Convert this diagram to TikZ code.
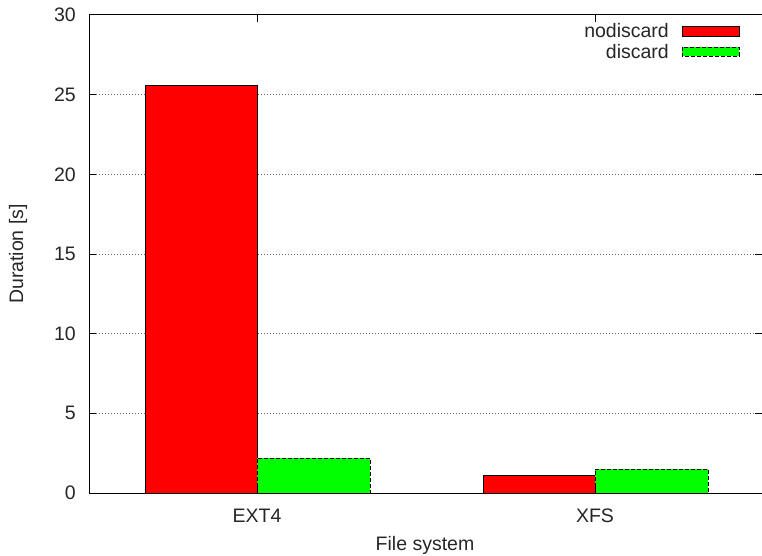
\documentclass[tikz,border=0pt]{standalone}
\usepackage{fontspec}
\setmainfont{Liberation Sans}
\begin{document}
\begin{tikzpicture}[x=1pt,y=-1pt,
  lbl/.style={font=\fontsize{19.5}{22}\selectfont, inner sep=0pt, text=black!85},
  axisline/.style={black, line width=1pt},
  gridline/.style={black!60, dash pattern=on 1.2pt off 1.8pt, line width=0.8pt},
  nodisc/.style={fill=red, draw=black, line width=0.8pt},
  disc/.style={fill=green, draw=black, dash pattern=on 4pt off 2pt, line width=0.8pt}]
\useasboundingbox (0,0) rectangle (762,556);

% value v is drawn at y = 493 - 15.9333 v
% horizontal grid lines, ticks and labels of the y axis
\foreach \v in {5,10,...,25} {
  \draw[gridline] (96,{493-15.9333*\v}) -- (755,{493-15.9333*\v});
}
\foreach \v in {0,5,...,30} {
  \draw[axisline] (89,{493-15.9333*\v}) -- (96,{493-15.9333*\v});
  \draw[axisline] (755,{493-15.9333*\v}) -- (762,{493-15.9333*\v});
  \node[lbl, anchor=east] (ytick\v) at (76,{493-15.9333*\v}) {\v};
}

% bars
\draw[nodisc] (145,493) rectangle (257,85.1);
\draw[disc]   (257,493) rectangle (370,458.0);
\draw[nodisc] (483,493) rectangle (595,475.5);
\draw[disc]   (595,493) rectangle (708,469.1);

% x ticks (bottom and mirrored on top)
\foreach \x in {257,595} {
  \draw[axisline] (\x,493) -- (\x,486);
  \draw[axisline] (\x,15) -- (\x,22);
}

% frame
\draw[axisline] (762,15) -- (89,15) -- (89,493) -- (762,493);

% category labels and axis titles
\node[lbl] (ext4) at (257,516) {EXT4};
\node[lbl] (xfs) at (595,516) {XFS};
\node[lbl] (xlabel) at (425,545) {File system};
\node[lbl, rotate=90] (ylabel) at (18,254) {Duration [s]};

% legend
\node[lbl, anchor=east] (key1) at (669,31) {nodiscard};
\draw[nodisc] (682,26) rectangle (739,36);
\node[lbl, anchor=east] (key2) at (669,51.5) {discard};
\draw[disc] (682,47) rectangle (739,56);
\end{tikzpicture}
\end{document}
